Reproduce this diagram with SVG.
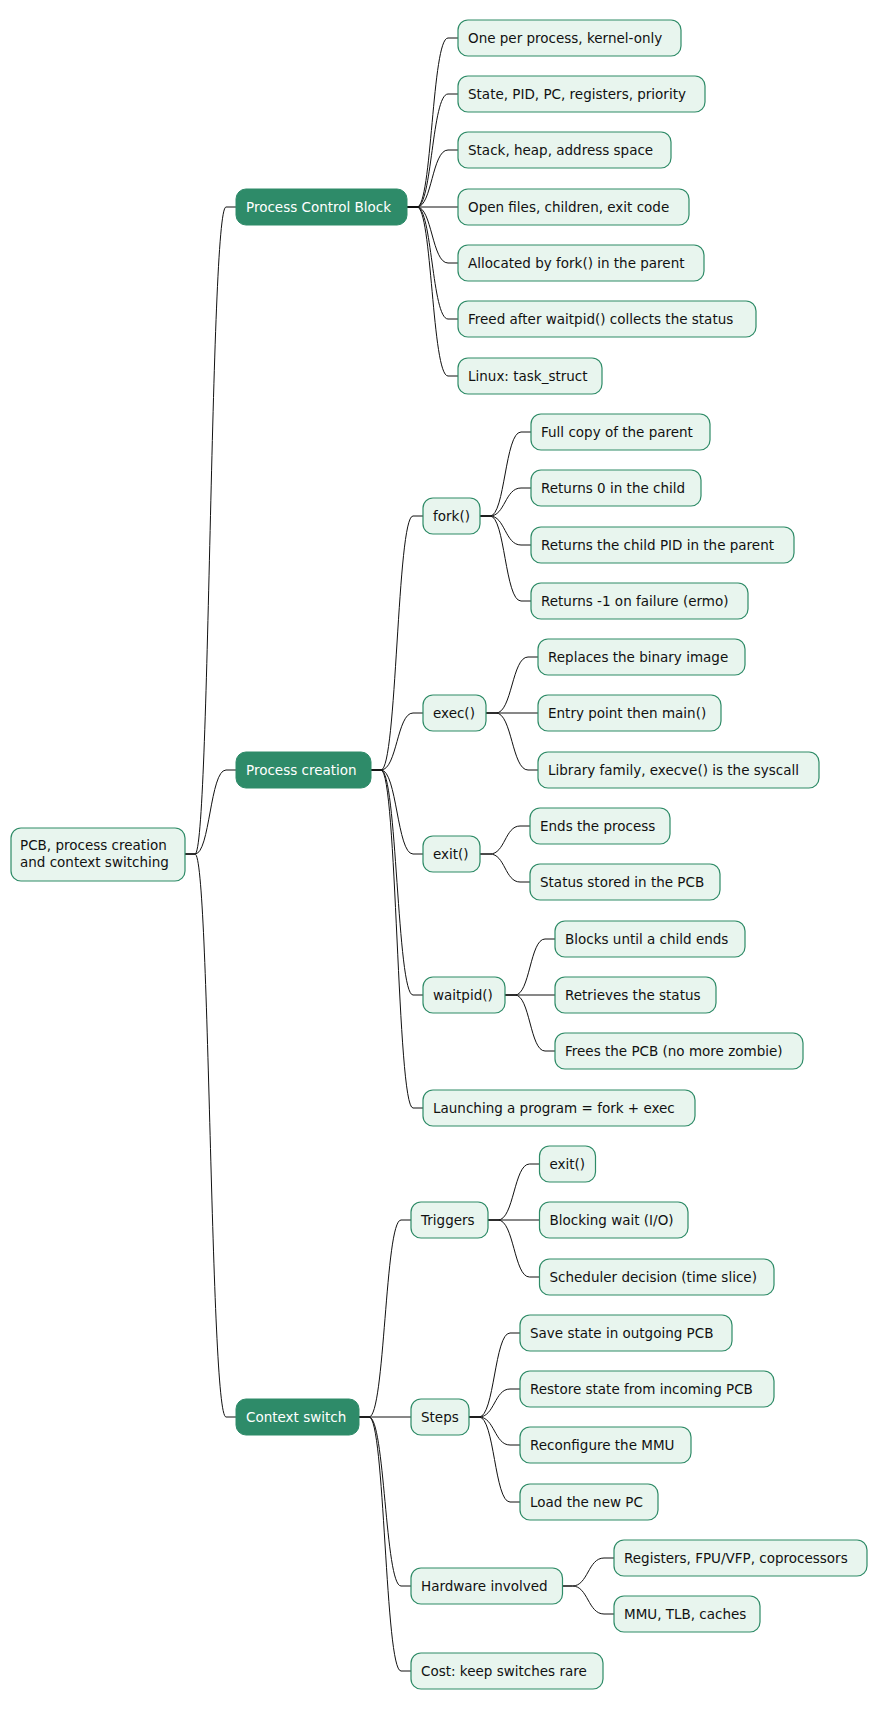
<svg xmlns="http://www.w3.org/2000/svg" width="874" height="1709" viewBox="0 0 874 1709">
<style>
.n rect{fill:#e8f5ee;stroke:#2e8b67;stroke-width:1.2}
.d rect{fill:#2e8b69;stroke:#2e8b69}
text{font-family:"DejaVu Sans",sans-serif;font-size:13.5px;fill:#111}
.d text{fill:#fff}
#edges path{fill:none;stroke:#111;stroke-width:1}
</style>
<rect width="874" height="1709" fill="#fff"/>
<g id="edges">
<path d="M185 854H195C210 854 210 207 226 207H236"/>
<path d="M185 854H195C210 854 210 770 226 770H236"/>
<path d="M185 854H195C210 854 210 1417 226 1417H236"/>
<path d="M407 207H417C432 207 432 38 448 38H458"/>
<path d="M407 207H417C432 207 432 94 448 94H458"/>
<path d="M407 207H417C432 207 432 150 448 150H458"/>
<path d="M407 207H458"/>
<path d="M407 207H417C432 207 432 263 448 263H458"/>
<path d="M407 207H417C432 207 432 319 448 319H458"/>
<path d="M407 207H417C432 207 432 376 448 376H458"/>
<path d="M371 770H381C397 770 397 516 413 516H423"/>
<path d="M371 770H381C397 770 397 713 413 713H423"/>
<path d="M371 770H381C397 770 397 854 413 854H423"/>
<path d="M371 770H381C397 770 397 995 413 995H423"/>
<path d="M371 770H381C397 770 397 1108 413 1108H423"/>
<path d="M480 516H490C505 516 505 432 521 432H531"/>
<path d="M480 516H490C505 516 505 488 521 488H531"/>
<path d="M480 516H490C505 516 505 545 521 545H531"/>
<path d="M480 516H490C505 516 505 601 521 601H531"/>
<path d="M486 713H496C512 713 512 657 528 657H538"/>
<path d="M486 713H538"/>
<path d="M486 713H496C512 713 512 770 528 770H538"/>
<path d="M480 854H490C505 854 505 826 520 826H530"/>
<path d="M480 854H490C505 854 505 882 520 882H530"/>
<path d="M505 995H515C530 995 530 939 545 939H555"/>
<path d="M505 995H555"/>
<path d="M505 995H515C530 995 530 1051 545 1051H555"/>
<path d="M359 1417H369C385 1417 385 1220 401 1220H411"/>
<path d="M359 1417H411"/>
<path d="M359 1417H369C385 1417 385 1586 401 1586H411"/>
<path d="M359 1417H369C385 1417 385 1671 401 1671H411"/>
<path d="M488 1220H498C514 1220 514 1164 529.5 1164H539.5"/>
<path d="M488 1220H539.5"/>
<path d="M488 1220H498C514 1220 514 1277 529.5 1277H539.5"/>
<path d="M469 1417H479C494.5 1417 494.5 1333 510 1333H520"/>
<path d="M469 1417H479C494.5 1417 494.5 1389 510 1389H520"/>
<path d="M469 1417H479C494.5 1417 494.5 1445 510 1445H520"/>
<path d="M469 1417H479C494.5 1417 494.5 1502 510 1502H520"/>
<path d="M562.5 1586H572.5C588 1586 588 1558 604 1558H614"/>
<path d="M562.5 1586H572.5C588 1586 588 1614 604 1614H614"/>
</g>
<g id="root" class="n"><rect x="11" y="828" width="174" height="53" rx="10"/><text x="20" y="850">PCB, process creation</text><text x="20" y="867">and context switching</text></g>
<g id="pcb" class="d"><rect x="236" y="189" width="171" height="36" rx="10"/><text x="246" y="212">Process Control Block</text></g>
<g id="pcb1" class="n"><rect x="458" y="20" width="223" height="36" rx="10"/><text x="468" y="43">One per process, kernel-only</text></g>
<g id="pcb2" class="n"><rect x="458" y="76" width="247" height="36" rx="10"/><text x="468" y="99">State, PID, PC, registers, priority</text></g>
<g id="pcb3" class="n"><rect x="458" y="132" width="213" height="36" rx="10"/><text x="468" y="155">Stack, heap, address space</text></g>
<g id="pcb4" class="n"><rect x="458" y="189" width="231" height="36" rx="10"/><text x="468" y="212">Open files, children, exit code</text></g>
<g id="pcb5" class="n"><rect x="458" y="245" width="246" height="36" rx="10"/><text x="468" y="268">Allocated by fork() in the parent</text></g>
<g id="pcb6" class="n"><rect x="458" y="301" width="298" height="36" rx="10"/><text x="468" y="324">Freed after waitpid() collects the status</text></g>
<g id="pcb7" class="n"><rect x="458" y="358" width="144" height="36" rx="10"/><text x="468" y="381">Linux: task_struct</text></g>
<g id="pc" class="d"><rect x="236" y="752" width="135" height="36" rx="10"/><text x="246" y="775">Process creation</text></g>
<g id="fork" class="n"><rect x="423" y="498" width="57" height="36" rx="10"/><text x="433" y="521">fork()</text></g>
<g id="f1" class="n"><rect x="531" y="414" width="179" height="36" rx="10"/><text x="541" y="437">Full copy of the parent</text></g>
<g id="f2" class="n"><rect x="531" y="470" width="170" height="36" rx="10"/><text x="541" y="493">Returns 0 in the child</text></g>
<g id="f3" class="n"><rect x="531" y="527" width="263" height="36" rx="10"/><text x="541" y="550">Returns the child PID in the parent</text></g>
<g id="f4" class="n"><rect x="531" y="583" width="217" height="36" rx="10"/><text x="541" y="606">Returns -1 on failure (ermo)</text></g>
<g id="exec" class="n"><rect x="423" y="695" width="63" height="36" rx="10"/><text x="433" y="718">exec()</text></g>
<g id="e1" class="n"><rect x="538" y="639" width="207" height="36" rx="10"/><text x="548" y="662">Replaces the binary image</text></g>
<g id="e2" class="n"><rect x="538" y="695" width="183" height="36" rx="10"/><text x="548" y="718">Entry point then main()</text></g>
<g id="e3" class="n"><rect x="538" y="752" width="281" height="36" rx="10"/><text x="548" y="775">Library family, execve() is the syscall</text></g>
<g id="exit" class="n"><rect x="423" y="836" width="57" height="36" rx="10"/><text x="433" y="859">exit()</text></g>
<g id="x1" class="n"><rect x="530" y="808" width="140" height="36" rx="10"/><text x="540" y="831">Ends the process</text></g>
<g id="x2" class="n"><rect x="530" y="864" width="190" height="36" rx="10"/><text x="540" y="887">Status stored in the PCB</text></g>
<g id="waitpid" class="n"><rect x="423" y="977" width="82" height="36" rx="10"/><text x="433" y="1000">waitpid()</text></g>
<g id="w1" class="n"><rect x="555" y="921" width="190" height="36" rx="10"/><text x="565" y="944">Blocks until a child ends</text></g>
<g id="w2" class="n"><rect x="555" y="977" width="161" height="36" rx="10"/><text x="565" y="1000">Retrieves the status</text></g>
<g id="w3" class="n"><rect x="555" y="1033" width="248" height="36" rx="10"/><text x="565" y="1056">Frees the PCB (no more zombie)</text></g>
<g id="launch" class="n"><rect x="423" y="1090" width="272" height="36" rx="10"/><text x="433" y="1113">Launching a program = fork + exec</text></g>
<g id="cs" class="d"><rect x="236" y="1399" width="123" height="36" rx="10"/><text x="246" y="1422">Context switch</text></g>
<g id="trig" class="n"><rect x="411" y="1202" width="77" height="36" rx="10"/><text x="421" y="1225">Triggers</text></g>
<g id="t1" class="n"><rect x="539.5" y="1146" width="56" height="36" rx="10"/><text x="549.5" y="1169">exit()</text></g>
<g id="t2" class="n"><rect x="539.5" y="1202" width="148.5" height="36" rx="10"/><text x="549.5" y="1225">Blocking wait (I/O)</text></g>
<g id="t3" class="n"><rect x="539.5" y="1259" width="234.5" height="36" rx="10"/><text x="549.5" y="1282">Scheduler decision (time slice)</text></g>
<g id="steps" class="n"><rect x="411" y="1399" width="58" height="36" rx="10"/><text x="421" y="1422">Steps</text></g>
<g id="s1" class="n"><rect x="520" y="1315" width="212" height="36" rx="10"/><text x="530" y="1338">Save state in outgoing PCB</text></g>
<g id="s2" class="n"><rect x="520" y="1371" width="254" height="36" rx="10"/><text x="530" y="1394">Restore state from incoming PCB</text></g>
<g id="s3" class="n"><rect x="520" y="1427" width="171" height="36" rx="10"/><text x="530" y="1450">Reconfigure the MMU</text></g>
<g id="s4" class="n"><rect x="520" y="1484" width="138" height="36" rx="10"/><text x="530" y="1507">Load the new PC</text></g>
<g id="hw" class="n"><rect x="411" y="1568" width="151.5" height="36" rx="10"/><text x="421" y="1591">Hardware involved</text></g>
<g id="h1" class="n"><rect x="614" y="1540" width="253" height="36" rx="10"/><text x="624" y="1563">Registers, FPU/VFP, coprocessors</text></g>
<g id="h2" class="n"><rect x="614" y="1596" width="146" height="36" rx="10"/><text x="624" y="1619">MMU, TLB, caches</text></g>
<g id="cost" class="n"><rect x="411" y="1653" width="192" height="36" rx="10"/><text x="421" y="1676">Cost: keep switches rare</text></g>
</svg>
